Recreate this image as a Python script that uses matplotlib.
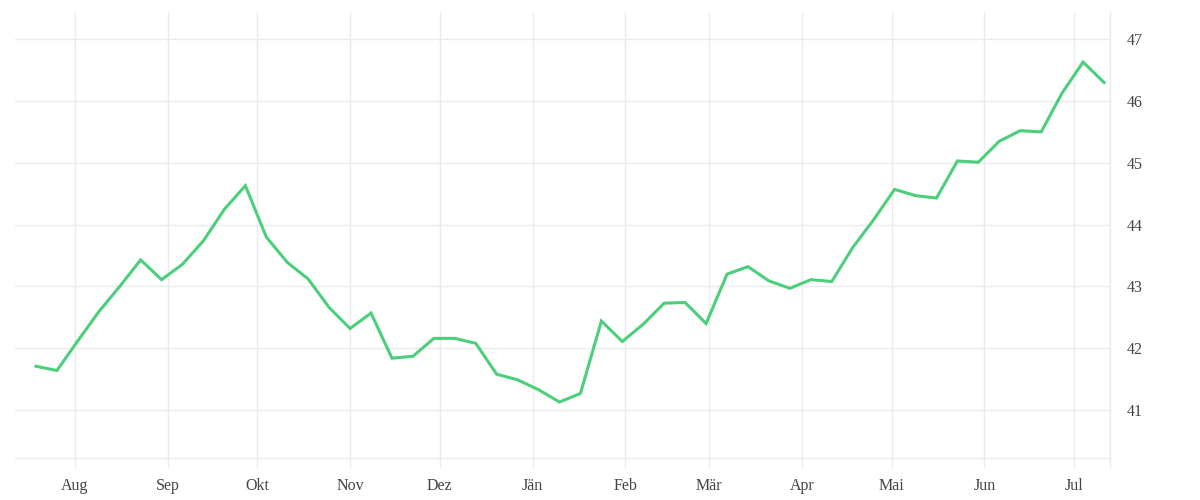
import matplotlib
matplotlib.use('Agg')
import matplotlib.pyplot as plt
import numpy as np
import pandas as pd

# weekly values
start = '2020-07-19'
values = [41.71, 41.64, 42.12, 42.59, 43.00, 43.43, 43.11, 43.36, 43.74, 44.25,
          44.63, 43.80, 43.39, 43.12, 42.66, 42.32, 42.57, 41.84, 41.87, 42.16,
          42.16, 42.08, 41.58, 41.49, 41.33, 41.13, 41.27, 42.44, 42.11, 42.39,
          42.73, 42.74, 42.40, 43.20, 43.32, 43.09, 42.97, 43.11, 43.08, 43.63,
          44.08, 44.57, 44.47, 44.43, 45.03, 45.01, 45.35, 45.52, 45.50, 46.13,
          46.63, 46.30]
dates = pd.date_range(start, periods=len(values), freq='7D')

month_labels = ['Aug', 'Sep', 'Okt', 'Nov', 'Dez', 'Jän', 'Feb', 'Mär', 'Apr',
                'Mai', 'Jun', 'Jul']
month_ticks = pd.date_range('2020-08-01', periods=12, freq='MS')
y_ticks = [41, 42, 43, 44, 45, 46, 47]

grid = '#ebebeb'
text = '#444444'
plt.rcParams['font.family'] = ['Liberation Serif', 'DejaVu Serif']

fig = plt.figure(figsize=(12, 5), dpi=100)
ax = fig.add_axes([0.0125, 0.0834, 0.9125, 0.8926])

ax.plot(dates, values, color='#4ccf7a', lw=2.2, solid_joinstyle='miter')

x0 = pd.Timestamp('2020-07-12')
x1 = pd.Timestamp('2021-07-13')
ax.set_xlim(x0, x1)
ax.set_ylim(40.22, 47.44)

ax.set_xticks(list(month_ticks) + [x1])
ax.set_xticklabels(month_labels + [''])
ax.set_yticks(y_ticks)
ax.set_yticklabels([str(v) for v in y_ticks])

ax.yaxis.tick_right()
ax.tick_params(axis='y', length=0, pad=12, labelsize=11.5, labelcolor=text)
ax.tick_params(axis='x', length=7, width=1, color=grid, pad=7, labelsize=11.5,
               labelcolor=text)
ax.grid(True, color=grid, lw=1)

for s in ['top', 'left']:
    ax.spines[s].set_visible(False)
for s in ['bottom', 'right']:
    ax.spines[s].set_color(grid)
    ax.spines[s].set_linewidth(1)

fig.savefig('out.png', dpi=100)
